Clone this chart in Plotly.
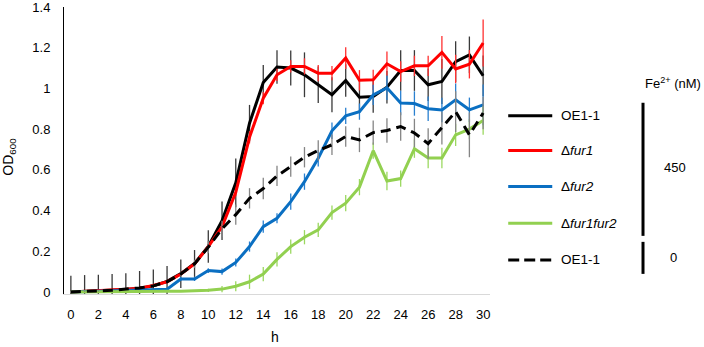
import plotly.graph_objects as go

hours = list(range(31))

oe_450 = [0.0, 0.003, 0.005, 0.008, 0.012, 0.018, 0.03, 0.052, 0.09, 0.14, 0.223, 0.35, 0.536, 0.829,
          1.029, 1.105, 1.10, 1.067, 1.018, 0.969, 1.039, 0.957, 0.96, 1.006, 1.088, 1.088, 1.018,
          1.034, 1.132, 1.165, 1.062]
oe_450_err = [0.08, 0.08, 0.08, 0.08, 0.08, 0.085, 0.08, 0.075, 0.07, 0.066, 0.08, 0.095, 0.12, 0.09,
              0.086, 0.082, 0.086, 0.11, 0.09, 0.086, 0.08, 0.078, 0.08, 0.08, 0.1, 0.1, 0.08, 0.11,
              0.1, 0.09, 0.1]

fur1 = [0.0, 0.003, 0.005, 0.008, 0.013, 0.018, 0.032, 0.05, 0.088, 0.138, 0.223, 0.32, 0.49, 0.76,
        0.952, 1.067, 1.108, 1.108, 1.075, 1.075, 1.149, 1.04, 1.042, 1.121, 1.083, 1.111, 1.111,
        1.177, 1.096, 1.119, 1.223]
fur1_err = [0.005] * 10 + [0.01, 0.015, 0.02, 0.03, 0.03, 0.03, 0.03, 0.04, 0.04, 0.035, 0.053,
                           0.05, 0.05, 0.06, 0.05, 0.05, 0.05, 0.08, 0.07, 0.07, 0.115]

fur2 = [0.0, 0.002, 0.003, 0.005, 0.008, 0.01, 0.012, 0.013, 0.064, 0.064, 0.105, 0.10, 0.145, 0.223,
        0.321, 0.362, 0.444, 0.542, 0.657, 0.792, 0.865, 0.886, 0.968, 1.003, 0.928, 0.926, 0.9,
        0.894, 0.944, 0.895, 0.919]
fur2_err = [0.003] * 8 + [0.01, 0.01, 0.012, 0.015, 0.02, 0.025, 0.03, 0.025, 0.04, 0.04, 0.04,
                          0.04, 0.04, 0.04, 0.05, 0.06, 0.06, 0.06, 0.06, 0.06, 0.08, 0.06, 0.1]

fur1fur2 = [0.0, 0.0, 0.0, 0.001, 0.001, 0.002, 0.002, 0.003, 0.004, 0.005, 0.008, 0.014, 0.028,
            0.05, 0.088, 0.16, 0.223, 0.269, 0.305, 0.39, 0.436, 0.515, 0.694, 0.545, 0.557, 0.704,
            0.658, 0.658, 0.772, 0.80, 0.842]
fur1fur2_err = [0.002] * 10 + [0.008, 0.015, 0.025, 0.035, 0.035, 0.035, 0.035, 0.035, 0.035,
                               0.035, 0.04, 0.04, 0.04, 0.045, 0.04, 0.045, 0.05, 0.05, 0.055,
                               0.05, 0.07]

oe_0 = [0.0, 0.003, 0.004, 0.008, 0.014, 0.02, 0.03, 0.05, 0.088, 0.138, 0.22, 0.31, 0.38, 0.46,
        0.508, 0.57, 0.616, 0.662, 0.695, 0.723, 0.764, 0.747, 0.783, 0.793, 0.813, 0.781, 0.729,
        0.805, 0.886, 0.772, 0.879]
oe_0_err = [0.003] * 8 + [0.01, 0.02, 0.03, 0.04, 0.05, 0.05, 0.053, 0.05, 0.05, 0.05, 0.05, 0.05,
                          0.05, 0.06, 0.06, 0.06, 0.07, 0.07, 0.075, 0.08, 0.1, 0.11, 0.08]

legend_labels = ["OE1-1", "Δ<i>fur1</i>", "Δ<i>fur2</i>", "Δ<i>fur1fur2</i>", "OE1-1"]
line_colors = ["#000000", "#ff0000", "#0a6fc2", "#92d050", "#000000"]
err_colors = ["#3a3a3a", "#ff3030", "#2a80d0", "#9bd860", "#858585"]
line_dashes = ["solid", "solid", "solid", "solid", "10px,6px"]
series = [oe_450, fur1, fur2, fur1fur2, oe_0]
errors = [oe_450_err, fur1_err, fur2_err, fur1fur2_err, oe_0_err]
fe_title = "Fe<sup>2+</sup> (nM)"
fe_groups = ["450", "0"]
x_title = "h"
y_title = "OD<sub>600</sub>"

W, H = 704, 347
L, R_EDGE = 64.1, 489.8
T, B_EDGE = 7.3, 294.1

fig = go.Figure()
for ys, es, col, ecol, dash, name in zip(series, errors, line_colors, err_colors, line_dashes, legend_labels):
    fig.add_trace(go.Scatter(
        x=hours, y=ys, mode="lines", name=name,
        line=dict(color=col, width=3, dash=dash),
        error_y=dict(type="data", array=es, visible=True, color=ecol, thickness=1.3, width=0),
        showlegend=False,
    ))


def px(xp):
    return (xp - L) / (R_EDGE - L)


def py(yp):
    return (B_EDGE - yp) / (B_EDGE - T)


font = "Liberation Sans, Arial, Helvetica, sans-serif"
shapes = []
annotations = []
leg_y = [116, 150.7, 186.7, 223.3, 260]
for yy, col, dash, lab in zip(leg_y, line_colors, line_dashes, legend_labels):
    shapes.append(dict(type="line", xref="paper", yref="paper", x0=px(508), x1=px(552),
                       y0=py(yy), y1=py(yy), line=dict(color=col, width=3,
                                                        dash="11px,5px" if dash != "solid" else "solid")))
    annotations.append(dict(xref="paper", yref="paper", x=px(559), y=py(yy), text=lab,
                            showarrow=False, xanchor="left", yanchor="middle",
                            font=dict(family=font, size=13.5, color="#000")))

shapes.append(dict(type="line", xref="paper", yref="paper", x0=px(642.7), x1=px(642.7),
                   y0=py(103), y1=py(236), line=dict(color="#000", width=3)))
shapes.append(dict(type="line", xref="paper", yref="paper", x0=px(642.7), x1=px(642.7),
                   y0=py(242), y1=py(274), line=dict(color="#000", width=3)))
annotations.append(dict(xref="paper", yref="paper", x=px(673), y=py(83), text=fe_title,
                        showarrow=False, xanchor="center", yanchor="middle",
                        font=dict(family=font, size=13, color="#000")))
annotations.append(dict(xref="paper", yref="paper", x=px(675), y=py(168), text=fe_groups[0],
                        showarrow=False, xanchor="center", yanchor="middle",
                        font=dict(family=font, size=13, color="#000")))
annotations.append(dict(xref="paper", yref="paper", x=px(673), y=py(258), text=fe_groups[1],
                        showarrow=False, xanchor="center", yanchor="middle",
                        font=dict(family=font, size=13, color="#000")))
annotations.append(dict(xref="paper", yref="paper", x=px(9), y=py(157), text=y_title,
                        showarrow=False, xanchor="center", yanchor="middle", textangle=-90,
                        font=dict(family=font, size=14, color="#000")))
annotations.append(dict(xref="paper", yref="paper", x=px(275), y=py(337.5), text=x_title,
                        showarrow=False, xanchor="center", yanchor="middle",
                        font=dict(family=font, size=14, color="#000")))

fig.update_layout(
    width=W, height=H,
    margin=dict(l=L, r=W - R_EDGE, t=T, b=H - B_EDGE, pad=0),
    paper_bgcolor="white", plot_bgcolor="white",
    font=dict(family=font, size=13, color="#000"),
    shapes=shapes, annotations=annotations,
    xaxis=dict(range=[-0.5, 30.5], tickmode="array", tickvals=list(range(0, 31, 2)),
               ticks="outside", ticklen=8, tickcolor="rgba(0,0,0,0)", automargin=False,
               ticklabeloverflow="allow",
               showgrid=False, zeroline=False, showline=True, linecolor="#d9d9d9", linewidth=1),
    yaxis=dict(range=[-0.01, 1.4], tickmode="array", tickvals=[0, 0.2, 0.4, 0.6, 0.8, 1, 1.2, 1.4],
               ticktext=["0", "0.2", "0.4", "0.6", "0.8", "1", "1.2", "1.4"],
               ticks="outside", ticklen=10, tickcolor="rgba(0,0,0,0)", automargin=False,
               ticklabeloverflow="allow",
               showgrid=False, zeroline=False, showline=True, linecolor="#000", linewidth=1),
)

fig.write_html("out.html")
